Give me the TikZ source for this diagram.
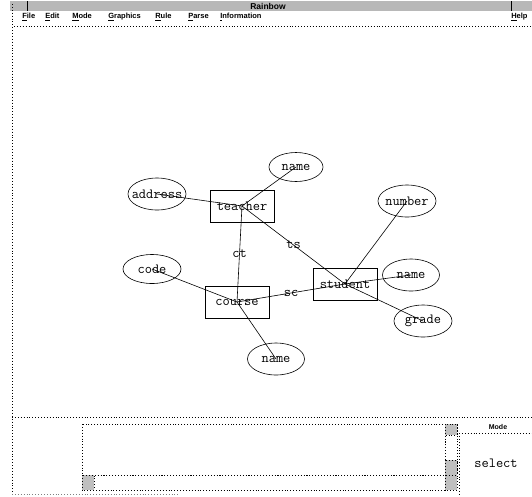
\documentclass[tikz,border=0pt]{standalone}
\usepackage{fontspec}
\newfontfamily\uifont{Liberation Sans}
\usetikzlibrary{arrows,positioning,shapes}

\begin{document}
\begin{tikzpicture}
[x=1pt, y=-1pt, semithick,
every node/.style={font=\fontsize{14}{16}\selectfont\ttfamily, inner sep=1pt},
entity/.style={draw, rectangle, minimum width=64pt, minimum height=32pt},
attrib/.style={draw, ellipse, minimum width=58pt, minimum height=32pt, inner sep=0pt,
  execute at begin node={\hbox to 0pt\bgroup\hss}, execute at end node={\hss\egroup}},
frame/.style={dotted, line width=0.9pt},
menu/.style={font=\uifont\bfseries\fontsize{7.5}{10}\selectfont, anchor=west, inner sep=0pt},
knob/.style={frame, fill=black!25}
]
  \useasboundingbox (0,0) rectangle (532,496);

  % window chrome
  \fill[black!28] (10,1) rectangle (532,11);
  \draw[thin] (27,1) -- (27,11);
  \draw[thin] (511,1) -- (511,11);
  \node[font=\uifont\bfseries\fontsize{8.5}{10}\selectfont] (title) at (268,6) {Rainbow};
  \node[menu] (mfile)  at (22,17)  {\underline{F}ile};
  \node[menu] (medit)  at (45,17)  {\underline{E}dit};
  \node[menu] (mmode)  at (72,17)  {\underline{M}ode};
  \node[menu] (mgraph) at (108,17) {\underline{G}raphics};
  \node[menu] (mrule)  at (155,17) {\underline{R}ule};
  \node[menu] (mparse) at (188,17) {\underline{P}arse};
  \node[menu] (minfo)  at (220,17) {\underline{I}nformation};
  \node[menu] (mhelp)  at (511,17) {\underline{H}elp};
  \draw[frame] (14,26) -- (532,26);
  \draw[frame] (12,4) -- (12,496);

  % entities
  \node[entity] (teacher) at (242,206) {teacher};
  \node[entity] (course)  at (237,302) {course};
  \node[entity] (student) at (345,284) {student};

  % attributes
  \node[attrib, minimum width=54pt, minimum height=29pt] (tname) at (296,167) {name};
  \node[attrib] (address) at (157,194) {address};
  \node[attrib, minimum height=29pt] (code) at (152,269) {code};
  \node[attrib, minimum width=57pt] (cname) at (276,359) {name};
  \node[attrib] (number) at (407,201) {number};
  \node[attrib, minimum width=57pt] (sname) at (411,275) {name};
  \node[attrib] (grade) at (423,321) {grade};

  \path
    (teacher.center) edge              (tname.center)
    (teacher.center) edge              (address.center)
    (teacher.center) edge node {ct}    (course.center)
    (teacher.center) edge node {ts}    (student.center)
    (course.center)  edge node {sc}    (student.center)
    (course.center)  edge              (code.center)
    (course.center)  edge              (cname.center)
    (student.center) edge              (number.center)
    (student.center) edge              (sname.center)
    (student.center) edge              (grade.center)
    ;

  % message area and mode panel
  \draw[frame] (12,417) -- (532,417);
  \draw[frame] (82,424) rectangle (445,475);
  \draw[frame] (445,424) rectangle (457,475);
  \draw[knob] (445,424) rectangle (457,435);
  \draw[knob] (445,460) rectangle (457,475);
  \draw[frame] (82,475) rectangle (445,490);
  \draw[knob] (82,475) rectangle (94,490);
  \draw[knob] (445,475) rectangle (457,490);
  \draw[frame] (459,433) -- (459,496);
  \draw[frame] (459,433) -- (532,433);
  \node[font=\uifont\bfseries\fontsize{7}{8}\selectfont] (mlabel) at (498,427) {Mode};
  \node (mode) at (496,463) {select};
  \draw[frame, black!50] (12,494) -- (180,494);
\end{tikzpicture}
\end{document}
